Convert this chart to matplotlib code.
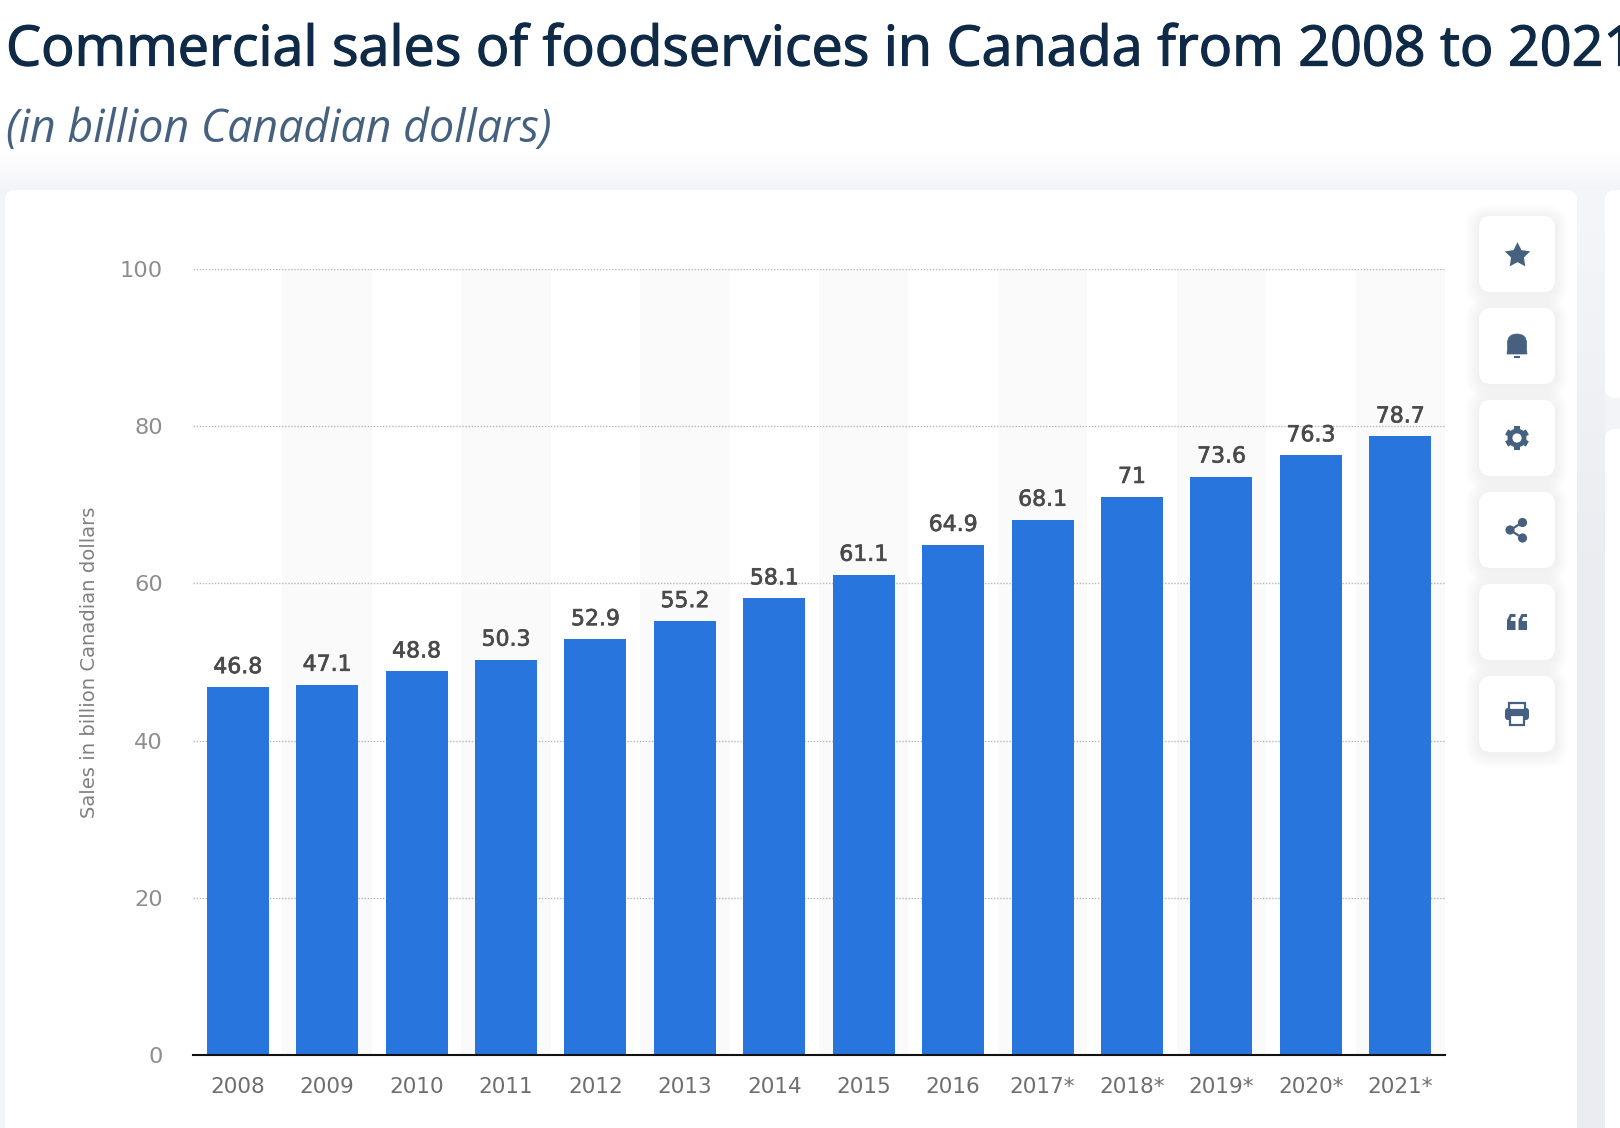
import numpy as np
import matplotlib
matplotlib.use("Agg")
import matplotlib.pyplot as plt
import matplotlib.patheffects as pe
from matplotlib.patches import FancyBboxPatch, Rectangle, Circle, PathPatch, Polygon
from matplotlib.path import Path
from matplotlib.transforms import Affine2D

years = ["2008","2009","2010","2011","2012","2013","2014","2015","2016","2017*","2018*","2019*","2020*","2021*"]
sales = [46.8,47.1,48.8,50.3,52.9,55.2,58.1,61.1,64.9,68.1,71,73.6,76.3,78.7]
y_ticks = [0,20,40,60,80,100]
title = "Commercial sales of foodservices in Canada from 2008 to 2021"
subtitle = "(in billion Canadian dollars)"
y_label = "Sales in billion Canadian dollars"

W, H = 1620, 1128
PX = 0.72
BLUE = "#2975de"; ICON = "#46617f"

fig = plt.figure(figsize=(W/100, H/100), dpi=100, facecolor="white")

# page chrome in pixel coordinates
bg = fig.add_axes([0,0,1,1], zorder=0)
bg.axis("off")
grad = np.ones((H, 1, 3))
top = np.array([1,1,1.0]); low = np.array([0xf3,0xf4,0xf7])/255
t = np.clip((np.arange(H)-150)/40,0,1)[:,None]
grad[:,0,:] = top*(1-t)+low*t
bg.imshow(grad, extent=[0,W,H,0], aspect="auto", zorder=0)
g2 = np.ones((H-190, 1, 3))
c0 = np.array([0xf5,0xf6,0xf9])/255; c1 = np.array([0xeb,0xec,0xf1])/255
t2 = np.clip((np.arange(H-190))/400,0,1)[:,None]
g2[:,0,:] = c0*(1-t2)+c1*t2
bg.imshow(g2, extent=[1577,1605,H,190], aspect="auto", zorder=1)
bg.set_xlim(0,W); bg.set_ylim(H,0)
def card(x,y,w,h,r=10,z=2,**kw):
    bg.add_patch(FancyBboxPatch((x+r,y+r),w-2*r,h-2*r,boxstyle=f"round,pad={r},rounding_size={r}",fc="white",ec="none",zorder=z,**kw))
card(5,190,1572,1000)
card(1605,190,60,208)
card(1605,429,60,800)
btn_y = [216,308,400,492,584,676]
for y in btn_y:
    for k in range(14,0,-1):
        bg.add_patch(FancyBboxPatch((1479-k,y-k+2),76+2*k,76+2*k,boxstyle=f"round,pad=0,rounding_size={12+k}",fc="#cdd2de",ec="none",alpha=0.012,zorder=3))
    card(1479,y,76,76,r=12,z=4)
cx = 1517
# star
bg.scatter([cx],[254.5],marker=(5,1,0),s=370,c=ICON,linewidths=0,zorder=5)
# bell
c = 346
verts = [(cx-10,c+8),(cx-9.5,c+3),(cx-9.5,c-3),(cx-9.5,c-12),(cx,c-12),(cx+9.5,c-12),(cx+9.5,c-3),(cx+9.5,c+3),(cx+10,c+8),(cx-10,c+8)]
codes = [Path.MOVETO,Path.LINETO,Path.LINETO,Path.CURVE3,Path.CURVE3,Path.CURVE3,Path.CURVE3,Path.LINETO,Path.LINETO,Path.CLOSEPOLY]
bg.add_patch(PathPatch(Path(verts,codes),fc=ICON,ec=ICON,lw=0.5,zorder=5))
bg.add_patch(Rectangle((cx-3,c+9.5),6,2,fc=ICON,ec="none",zorder=5))
# gear
c = 438
bg.add_patch(Circle((cx,c),9.5,fc=ICON,ec="none",zorder=5))
for a in range(0,360,60):
    tr = Affine2D().rotate_deg_around(cx,c,a)+bg.transData
    bg.add_patch(Rectangle((cx-3,c-12),6,6,fc=ICON,ec="none",zorder=5,transform=tr))
bg.add_patch(Circle((cx,c),4.6,fc="white",ec="none",zorder=6))
# share
c = 530
pts = [(cx-7,c),(cx+5.5,c-7.5),(cx+5.5,c+8)]
bg.plot([pts[1][0],pts[0][0],pts[2][0]],[pts[1][1],pts[0][1],pts[2][1]],color=ICON,lw=1.6,zorder=5)
for p in pts:
    bg.add_patch(Circle(p,4.6,fc=ICON,ec="none",zorder=5))
# quote
c = 622
for x0 in (cx-10,cx+1.5):
    bg.add_patch(Polygon([(x0,c+8),(x0,c-2),(x0+3,c-8),(x0+8.5,c-8),(x0+8.5,c-5),(x0+4.5,c-5),(x0+3.5,c-1),(x0+8.5,c-1),(x0+8.5,c+8)],fc=ICON,ec="none",zorder=5))
# printer
c = 714
bg.add_patch(FancyBboxPatch((cx-10,c-4),20,8,boxstyle="round,pad=2,rounding_size=3",fc=ICON,ec="none",zorder=5))
bg.add_patch(Rectangle((cx-8,c-11.5),16,7,fc="white",ec=ICON,lw=1.6,zorder=5))
bg.add_patch(Rectangle((cx-7,c+1),14,9.5,fc="white",ec=ICON,lw=1.6,zorder=6))

# chart
L, R, T, B = 193, 1445, 269, 1055
ax = fig.add_axes([L/W, 1-B/H, (R-L)/W, (B-T)/H], zorder=2)
ax.patch.set_alpha(0)
x = np.arange(len(years))
ax.set_xlim(-0.5, len(years)-0.5)
ax.set_ylim(0, 100)
for i in x[1::2]:
    ax.axvspan(i-0.5, i+0.5, fc="#fafafa", ec="none", zorder=0)
ax.set_yticks(y_ticks)
ax.grid(axis="y", color="#b8b8b8", lw=1.0, ls=(0,(1,1.2)), zorder=1)
ax.set_axisbelow(True)
bars = ax.bar(x, sales, width=0.693, color=BLUE, zorder=2)
for s in ("top","left","right"):
    ax.spines[s].set_visible(False)
ax.spines["bottom"].set_color("#111111"); ax.spines["bottom"].set_linewidth(1.5); ax.spines["bottom"].set_zorder(3)
ax.set_xticks(x, years)
ax.tick_params(axis="x", length=0, pad=22*PX, labelsize=21.5*PX, labelcolor="#6e6e6e")
ax.tick_params(axis="y", length=0, pad=30*PX, labelsize=22.5*PX, labelcolor="#8e8e8e")
for lab in ax.get_xticklabels()+ax.get_yticklabels():
    lab.set_fontfamily("DejaVu Sans")
for xi, v in zip(x, sales):
    ax.annotate(f"{v:g}", (xi, v), xytext=(0, 20*PX), textcoords="offset points", ha="center", va="center",
                fontsize=22*PX, color="#4a4a4a", family="DejaVu Sans", zorder=4,
                path_effects=[pe.withStroke(linewidth=0.5, foreground="#4a4a4a")])

fg = fig.add_axes([0,0,1,1], zorder=3)
fg.set_xlim(0,W); fg.set_ylim(H,0); fg.axis("off")
fg.text(6, 51, title, fontsize=55.7*PX, family="Open Sans", color="#0f2a46", va="center", ha="left",
        path_effects=[pe.withStroke(linewidth=0.9, foreground="#0f2a46")])
fg.text(6, 130, subtitle, fontsize=44.8*PX, family="Open Sans", style="italic", color="#46617f", va="center", ha="left")
fg.text(89.5, 662, y_label, fontsize=19.6*PX, family="DejaVu Sans", color="#808080", rotation=90, va="center", ha="center")

fig.savefig("out.png", dpi=100)
